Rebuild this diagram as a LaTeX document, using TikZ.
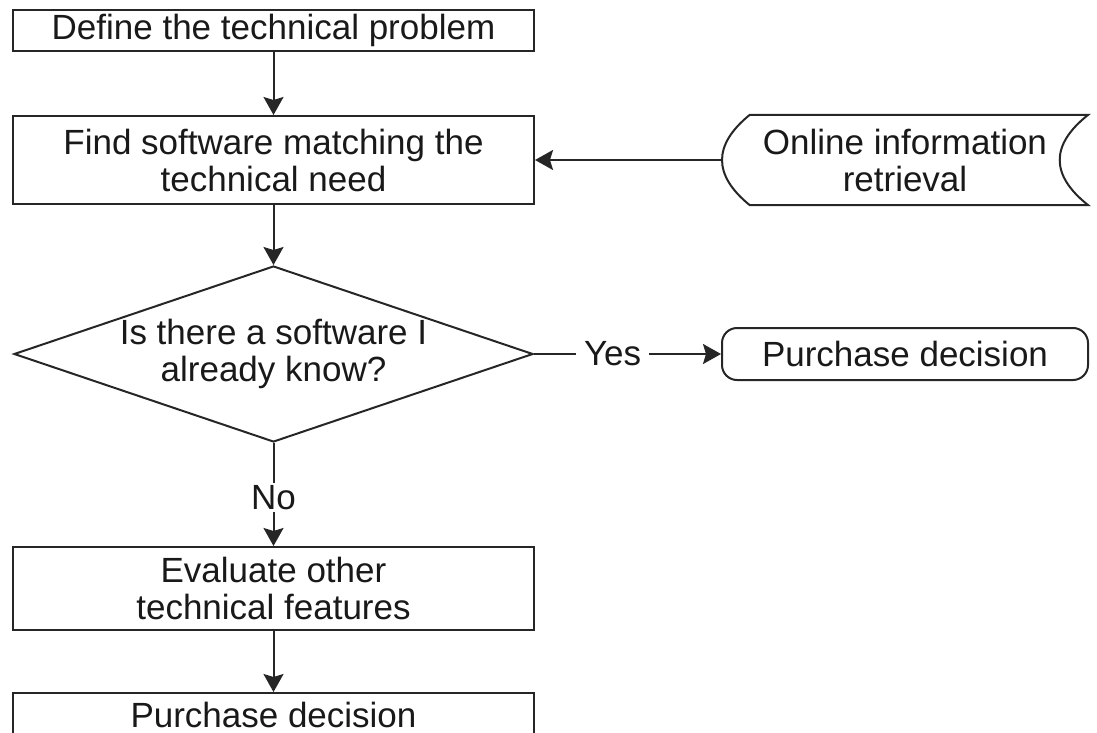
\documentclass[tikz,border=0pt]{standalone}
\usepackage{fontspec}
\setmainfont{Liberation Sans}
\usetikzlibrary{shapes.geometric,arrows.meta,positioning}

\begin{document}
\begin{tikzpicture}[x=1pt,y=-1pt,on grid,
	every node/.style={font=\fontsize{35}{37}\selectfont,text=black!90,align=center},
	line/.style={line width=2pt,draw=black!85},
	box/.style={line,rectangle,minimum width=521pt,inner sep=0pt},
	flow/.style={line,-{Stealth[length=18pt,width=20pt,inset=3pt]}}]
	\useasboundingbox (0,0) rectangle (1097,733);

	\node[box,minimum height=41pt] (define) at (273.5,30.5) {Define the technical problem};
	\node[box,minimum height=88pt] (find) [below=129.5pt of define] {Find software matching the\\technical need};
	\node[line,diamond,aspect=2.95,minimum width=519pt,minimum height=176pt,inner sep=0pt] (known) [below=194pt of find] {Is there a software I\\already know?};
	\node[box,minimum height=83pt] (evaluate) [below=234.5pt of known] {Evaluate other\\technical features};
	\node[box,minimum height=44pt] (buy_2) [below=126.5pt of evaluate] {Purchase decision};
	\node[minimum width=366pt,minimum height=90pt,inner sep=0pt] (online) [right=631.5pt of find] {Online information\\retrieval};
	\node[box,rounded corners=15pt,minimum width=366pt,minimum height=52pt] (buy_1) [right=631.5pt of known] {Purchase decision};

	% stored data outline
	\draw[line] ([xshift=28pt]online.north west) -- (online.north east)
		.. controls +(-38,30) and +(-38,-30) .. (online.south east)
		-- ([xshift=28pt]online.south west)
		.. controls +(-37,-30) and +(-37,30) .. ([xshift=28pt]online.north west) -- cycle;

	\draw[flow] (define) -- (find);
	\draw[flow] (online) -- (find);
	\draw[flow] (find) -- (known);
	\draw[flow] (known) -- node[pos=0.42,fill=white,inner sep=8pt] {Yes} (buy_1);
	\draw[flow] (known) -- node[pos=0.53,fill=white,inner sep=2pt] {No} (evaluate);
	\draw[flow] (evaluate) -- (buy_2);

\end{tikzpicture}
\end{document}
